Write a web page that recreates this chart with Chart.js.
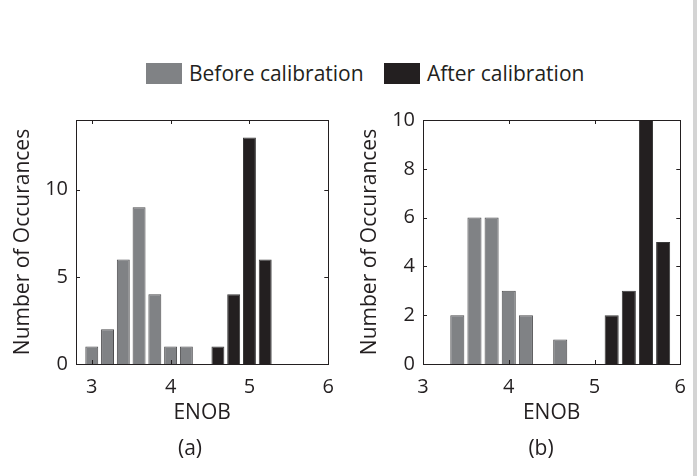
<!DOCTYPE html>
<html>
<head>
<meta charset="utf-8">
<script src="https://cdn.jsdelivr.net/npm/chart.js@4"></script>
<style>
  body { margin: 0; background: #fff; width: 697px; height: 476px; position: relative; overflow: hidden;
         font-family: "Open Sans", sans-serif; color: #231f20; }
  .wrap { position: absolute; top: 100px; height: 376px; }
  .swatch { position: absolute; top: 63px; width: 36px; height: 21px; }
  .ltext { position: absolute; top: 59px; font-size: 21px; line-height: 28px; white-space: nowrap; }
  .cap { position: absolute; top: 433px; font-size: 21px; line-height: 28px; width: 60px; text-align: center; }
  #edge { position: absolute; right: 0; top: 0; width: 4px; height: 476px; background: #d4d4d4; }
</style>
</head>
<body>
<div class="swatch" style="left:146px;background:#808285"></div>
<div class="ltext" style="left:189px">Before calibration</div>
<div class="swatch" style="left:384px;background:#231f20"></div>
<div class="ltext" style="left:427px">After calibration</div>

<div class="wrap" style="left:0;width:345px"><canvas id="chartA" width="345" height="376"></canvas></div>
<div class="wrap" style="left:347px;width:350px"><canvas id="chartB" width="350" height="376"></canvas></div>

<div class="cap" style="left:160px">(a)</div>
<div class="cap" style="left:511px">(b)</div>
<div id="edge"></div>

<script>
// (a) histogram
const beforeXa = [3.0, 3.2, 3.4, 3.6, 3.8, 4.0, 4.2];
const beforeYa = [1, 2, 6, 9, 4, 1, 1];
const afterXa = [4.6, 4.8, 5.0, 5.2];
const afterYa = [1, 4, 13, 6];
const yTicksA = [0, 5, 10];

// (b) histogram
const beforeXb = [3.4, 3.6, 3.8, 4.0, 4.2, 4.6];
const beforeYb = [2, 6, 6, 3, 2, 1];
const afterXb = [5.2, 5.4, 5.6, 5.8];
const afterYb = [2, 3, 10, 5];
const yTicksB = [0, 2, 4, 6, 8, 10];

const xTicks = [3, 4, 5, 6];
const seriesNames = ["Before calibration", "After calibration"];

const ink = "#231f20";

const boxPlugin = {
  id: "box",
  afterDatasetsDraw(chart) {
    const { ctx, chartArea: a, scales: { x, y } } = chart;
    ctx.save();
    ctx.strokeStyle = ink;
    ctx.lineWidth = 1;
    ctx.strokeRect(Math.round(a.left) + 0.5, Math.round(a.top) + 0.5,
      Math.round(a.right - a.left), Math.round(a.bottom - a.top));
    ctx.beginPath();
    x.ticks.forEach(t => {
      const p = Math.round(x.getPixelForValue(t.value)) + 0.5;
      ctx.moveTo(p, a.bottom); ctx.lineTo(p, a.bottom - 4);
      ctx.moveTo(p, a.top); ctx.lineTo(p, a.top + 4);
    });
    y.ticks.forEach(t => {
      const p = Math.round(y.getPixelForValue(t.value)) + 0.5;
      ctx.moveTo(a.left, p); ctx.lineTo(a.left + 4, p);
      ctx.moveTo(a.right, p); ctx.lineTo(a.right - 4, p);
    });
    ctx.stroke();
    ctx.restore();
  }
};

function toPoints(xs, ys) {
  return xs.map((x, i) => ({ x: x, y: ys[i] }));
}

function makeChart(id, bx, by, ax, ay, xMin, yMax, yTicks) {
  return new Chart(document.getElementById(id), {
    type: "bar",
    data: {
      datasets: [
        { label: seriesNames[0], data: toPoints(bx, by), backgroundColor: "#808285", borderColor: "#4d4d4f", borderWidth: 1 },
        { label: seriesNames[1], data: toPoints(ax, ay), backgroundColor: ink, borderColor: "#3a3a3a", borderWidth: 1 }
      ]
    },
    options: {
      responsive: false,
      animation: false,
      devicePixelRatio: 1,
      layout: { padding: { top: 11, right: 0, bottom: 0, left: 0 } },
      datasets: { bar: { grouped: false, barPercentage: 0.82, categoryPercentage: 1 } },
      plugins: { legend: { display: false }, tooltip: { enabled: false } },
      scales: {
        x: {
          type: "linear",
          min: xMin, max: 6,
          offset: false,
          grid: { display: false, drawTicks: false },
          border: { display: false },
          afterBuildTicks: s => { s.ticks = xTicks.map(v => ({ value: v })); },
          afterFit: s => { s.height = 112; },
          ticks: { padding: 11, color: ink, font: { family: "Open Sans", size: 20 }, maxRotation: 0 },
          title: { display: true, text: "ENOB", color: ink, font: { family: "Open Sans", size: 21 }, padding: { top: 0, bottom: 50 } }
        },
        y: {
          min: 0, max: yMax,
          grid: { display: false, drawTicks: false },
          border: { display: false },
          afterBuildTicks: s => { s.ticks = yTicks.map(v => ({ value: v })); },
          afterFit: s => { s.width = 76; },
          ticks: { padding: 8, color: ink, font: { family: "Open Sans", size: 20 } },
          title: { display: true, text: "Number of Occurances", color: ink, font: { family: "Open Sans", size: 21 }, padding: { top: 10, bottom: 0 } }
        }
      }
    },
    plugins: [boxPlugin]
  });
}

makeChart("chartA", beforeXa, beforeYa, afterXa, afterYa, 2.8, 14, yTicksA);
makeChart("chartB", beforeXb, beforeYb, afterXb, afterYb, 3, 10, yTicksB);
</script>
</body>
</html>
